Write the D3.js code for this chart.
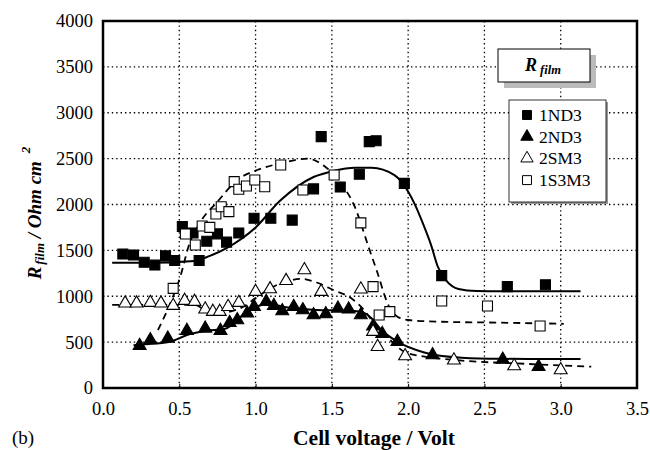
<!DOCTYPE html>
<html>
  <head>
    <meta charset="utf-8" />
    <title>R film</title>
    <script src="https://cdn.jsdelivr.net/npm/d3@7"></script>
    <style type="text/css">
      body { margin: 0; background: #fff; }
      svg text { font-family: "Liberation Serif", "Times New Roman", serif; fill: #000; }
    </style>
  </head>

  <body>
    <svg id="chart" width="650" height="450"></svg>
    <script type="text/javascript">
      // measured points [voltage, ohm cm2]
      var nd1Pts = [[0.13,1460],[0.20,1450],[0.27,1370],[0.34,1340],[0.41,1440],[0.47,1390],[0.52,1760],[0.59,1690],
        [0.63,1390],[0.68,1600],[0.75,1680],[0.81,1590],[0.89,1690],[0.99,1850],[1.10,1850],[1.24,1830],[1.38,2170],
        [1.43,2740],[1.555,2190],[1.68,2330],[1.745,2685],[1.79,2695],[1.975,2230],[2.22,1225],[2.65,1105],[2.90,1125]];
      var nd2Pts = [[0.24,460],[0.31,523],[0.425,541],[0.55,625],[0.67,650],[0.77,625],[0.83,712],[0.88,741],[0.945,814],
        [0.99,886],[1.07,941],[1.12,897],[1.175,839],[1.25,886],[1.31,850],[1.38,795],[1.46,806],[1.54,868],[1.61,858],
        [1.69,795],[1.77,672],[1.83,592],[1.93,505],[2.16,360],[2.62,310],[2.855,232]];
      var sm2Pts = [[0.145,923],[0.22,923],[0.31,930],[0.38,923],[0.46,897],[0.535,952],[0.60,941],[0.67,858],[0.72,832],
        [0.765,832],[0.82,886],[0.89,930],[1.0,1050],[1.095,1078],[1.20,1168],[1.32,1286],[1.43,1050],[1.69,1076],
        [1.77,614],[1.80,450],[1.98,349],[2.30,302],[2.695,240],[3.0,196]];
      var sm3Pts = [[0.46,1086],[0.54,1678],[0.605,1559],[0.65,1765],[0.70,1751],[0.74,1896],[0.775,1976],[0.825,1922],
        [0.86,2249],[0.89,2166],[0.94,2202],[0.995,2267],[1.06,2194],[1.165,2430],[1.31,2158],[1.515,2321],[1.69,1800],
        [1.77,1105],[1.81,795],[1.88,832],[2.22,948],[2.52,894],[2.865,676]];

      // fitted trend curves
      var nd1Fit = [[0.06,1365],[0.3,1365],[0.6,1385],[0.7,1440],[0.81,1525],[1.0,1750],[1.16,2040],[1.38,2300],[1.51,2365],
        [1.65,2400],[1.76,2400],[1.91,2320],[2.04,2015],[2.10,1780],[2.15,1560],[2.195,1320],[2.25,1170],[2.33,1080],
        [2.45,1058],[2.6,1055],[3.13,1055]];
      var nd2Fit = [[0.2,465],[0.3,480],[0.44,505],[0.55,578],[0.68,625],[0.8,645],[0.92,800],[1.0,880],[1.08,915],[1.2,880],
        [1.4,850],[1.6,845],[1.69,830],[1.76,760],[1.82,640],[1.93,505],[2.1,390],[2.35,330],[2.6,318],[3.13,315]];
      var sm2Fit = [[0.06,905],[0.6,905],[0.72,800],[0.8,820],[0.92,886],[1.0,980],[1.1,1090],[1.2,1160],[1.3,1190],[1.4,1150],
        [1.51,1068],[1.625,980],[1.72,832],[1.79,668],[1.87,541],[1.98,390],[2.1,345],[2.31,305],[2.79,262],[3.2,232]];
      var sm3Fit = [[0.36,630],[0.45,960],[0.51,1232],[0.56,1540],[0.64,1813],[0.75,2030],[0.88,2267],[1.01,2376],[1.165,2449],
        [1.34,2500],[1.45,2420],[1.56,2231],[1.65,1976],[1.74,1540],[1.80,1250],[1.865,923],[1.93,777],[2.0,741],[2.2,723],
        [2.6,712],[3.02,700]];

      var xTicks = [0, 0.5, 1, 1.5, 2, 2.5, 3, 3.5];
      var yTicks = [0, 500, 1000, 1500, 2000, 2500, 3000, 3500, 4000];
      var seriesNames = ['1ND3', '2ND3', '2SM3', '1S3M3'];

      function makeChart() {
        var svg = d3.select('#chart');
        var pL = 103, pR = 637, pT = 21, pB = 388;

        var scX = d3.scaleLinear().domain([0, 3.5]).range([pL, pR]);
        var scY = d3.scaleLinear().domain([0, 4000]).range([pB, pT]);

        // dotted grid
        var grid = svg.append('g').attr('stroke', '#000').attr('stroke-width', 1.3).attr('stroke-dasharray', '1.4,3');
        grid.selectAll('line.v').data(xTicks.slice(1, -1)).enter().append('line')
          .attr('x1', (d) => scX(d)).attr('x2', (d) => scX(d)).attr('y1', pT).attr('y2', pB);
        grid.selectAll('line.h').data(yTicks.slice(1, -1)).enter().append('line')
          .attr('y1', (d) => scY(d)).attr('y2', (d) => scY(d)).attr('x1', pL).attr('x2', pR);

        // axes
        var xAxis = d3.axisBottom(scX).tickValues(xTicks).tickFormat(d3.format('.1f')).tickSizeInner(-4).tickSizeOuter(0).tickPadding(14);
        var gx = svg.append('g').attr('transform', 'translate(0,' + pB + ')').call(xAxis);
        var yAxis = d3.axisLeft(scY).tickValues(yTicks).tickFormat(d3.format('d')).tickSize(0).tickPadding(10);
        var gy = svg.append('g').attr('transform', 'translate(' + pL + ',0)').call(yAxis);
        [gx, gy].forEach(function (g) {
          g.select('.domain').remove();
          g.attr('font-family', null).attr('font-size', null);
          g.selectAll('text').attr('font-size', 18.5);
          g.selectAll('line').attr('stroke', '#000');
        });

        svg.append('rect').attr('x', pL).attr('y', pT).attr('width', pR - pL).attr('height', pB - pT)
          .attr('fill', 'none').attr('stroke', '#000').attr('stroke-width', 2.5);

        // fitted curves
        var lineMaker = d3.line().x((d) => scX(d[0])).y((d) => scY(d[1])).curve(d3.curveMonotoneX);
        var fits = [[nd1Fit, null], [nd2Fit, null], [sm2Fit, '7,5'], [sm3Fit, '7,5']];
        fits.forEach(function (f) {
          svg.append('path').attr('d', lineMaker(f[0])).attr('fill', 'none').attr('stroke', '#000')
            .attr('stroke-width', f[1] ? 1.8 : 2).attr('stroke-dasharray', f[1]);
        });

        // markers
        var sq = d3.symbol().type(d3.symbolSquare).size(100);
        var tri = d3.symbol().type(d3.symbolTriangle).size(72);
        var markers = [
          { pts: nd1Pts, sym: sq, fill: '#000' },
          { pts: nd2Pts, sym: tri, fill: '#000' },
          { pts: sm2Pts, sym: tri, fill: '#fff' },
          { pts: sm3Pts, sym: sq, fill: '#fff' }
        ];
        markers.forEach(function (m) {
          svg.append('g').selectAll('path').data(m.pts).enter().append('path')
            .attr('d', m.sym())
            .attr('transform', (d) => 'translate(' + scX(d[0]) + ',' + scY(d[1]) + ')')
            .attr('fill', m.fill).attr('stroke', '#000').attr('stroke-width', 1.1);
        });

        // title box R film
        svg.append('rect').attr('x', 504).attr('y', 55).attr('width', 92).attr('height', 33).attr('fill', '#bbb');
        svg.append('rect').attr('x', 498).attr('y', 49).attr('width', 92).attr('height', 33)
          .attr('fill', '#fff').attr('stroke', '#000').attr('stroke-width', 1);
        var tt = svg.append('text').attr('x', 543).attr('y', 71).attr('text-anchor', 'middle')
          .attr('font-weight', 'bold').attr('font-style', 'italic').attr('font-size', 18);
        tt.append('tspan').text('R');
        tt.append('tspan').attr('font-size', 12.5).attr('dy', 3).attr('dx', 3).text('film');

        // legend
        svg.append('rect').attr('x', 511).attr('y', 102).attr('width', 97).attr('height', 102).attr('fill', '#999');
        svg.append('rect').attr('x', 509).attr('y', 100).attr('width', 97).attr('height', 102)
          .attr('fill', '#fff').attr('stroke', '#000').attr('stroke-width', 0.8);
        var lsq = d3.symbol().type(d3.symbolSquare).size(80);
        var ltri = d3.symbol().type(d3.symbolTriangle).size(66);
        var legSyms = [lsq, ltri, ltri, lsq];
        var legFill = ['#000', '#000', '#fff', '#fff'];
        var leg = svg.append('g').selectAll('g').data(seriesNames).enter().append('g')
          .attr('transform', (d, i) => 'translate(527,' + (115 + i * 21.7) + ')');
        leg.append('path').attr('d', (d, i) => legSyms[i]()).attr('fill', (d, i) => legFill[i])
          .attr('stroke', '#000').attr('stroke-width', 1);
        leg.append('text').attr('x', 12).attr('y', 6).attr('font-size', 17.5).text((d) => d);

        // axis titles
        svg.append('text').attr('x', 374).attr('y', 445).attr('text-anchor', 'middle')
          .attr('font-weight', 'bold').attr('font-size', 21.5).text('Cell voltage / Volt');
        svg.append('text').attr('x', 12).attr('y', 444).attr('font-size', 19).text('(b)');

        var yt = svg.append('text').attr('transform', 'translate(41,213) rotate(-90)').attr('text-anchor', 'middle')
          .attr('font-weight', 'bold').attr('font-style', 'italic').attr('font-size', 19);
        yt.append('tspan').text('R');
        yt.append('tspan').attr('font-size', 13).attr('dy', 3).attr('dx', 2).text('film');
        yt.append('tspan').attr('dy', -3).text(' / Ohm  cm');
        yt.append('tspan').attr('font-size', 13).attr('dy', -11).attr('dx', 8).text('2');
      }

      makeChart();
    </script>
  </body>
</html>
